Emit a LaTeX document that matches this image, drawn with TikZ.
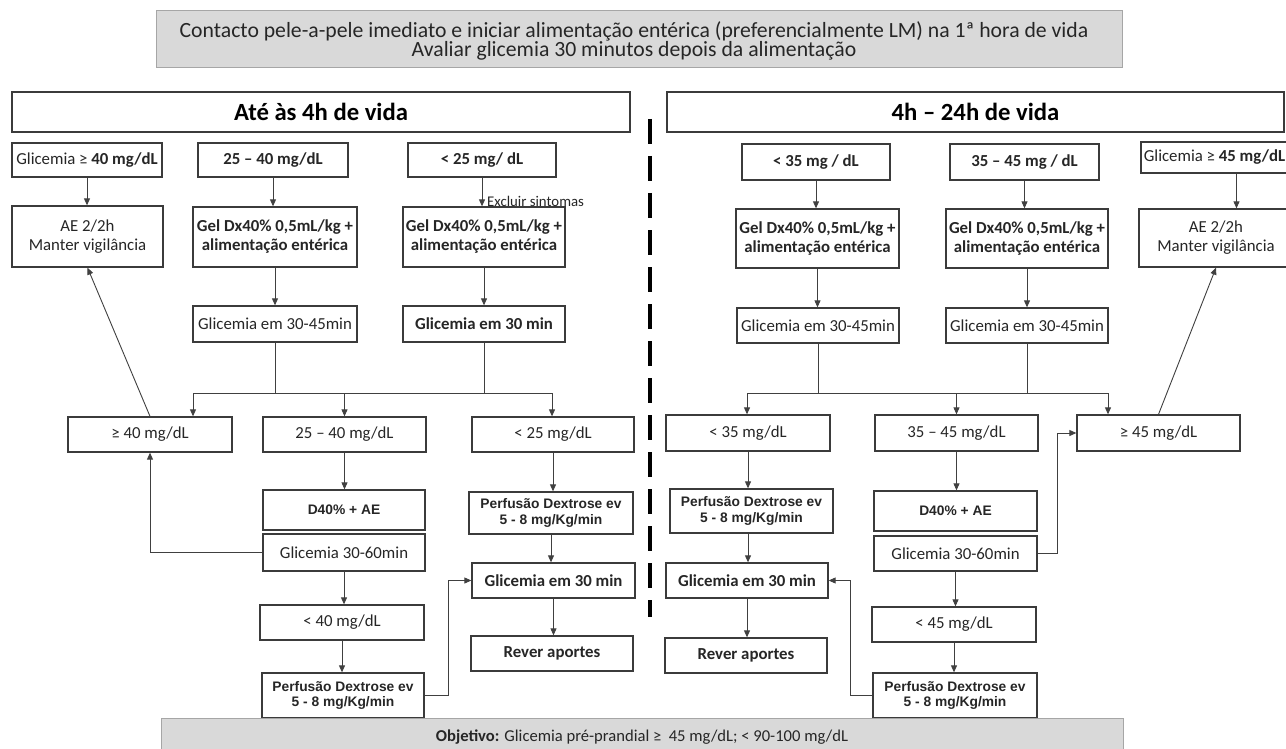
\documentclass[tikz,border=0pt]{standalone}
\usepackage{fontspec}
\setmainfont{Carlito}
\newfontfamily\arialf{Liberation Sans}
\usetikzlibrary{arrows.meta}
\definecolor{boxc}{HTML}{3B3B3B}
\definecolor{txt}{HTML}{262626}
\definecolor{lnc}{HTML}{404040}
\definecolor{bannerfill}{HTML}{D9D9D9}
\definecolor{bannerdraw}{HTML}{A6A6A6}
\newcommand\fsz[2]{\fontsize{#1}{#2}\selectfont}
\tikzset{
  bx/.style={draw=boxc, line width=1.3pt, fill=white, inner sep=1pt, align=center, text=txt, font=\fsz{16.8}{19}},
  bxb/.style={bx, font=\fsz{16.8}{19}\bfseries},
  bxa/.style={bx, font=\arialf\fsz{13.8}{15.5}\bfseries},
  hdr/.style={draw=boxc, line width=1.1pt, fill=white, inner sep=1pt, text=black, font=\fsz{24.7}{28}\bfseries},
  banner/.style={draw=bannerdraw, line width=1pt, fill=bannerfill, inner sep=1pt, align=center, text=txt},
  ln/.style={line width=0.9pt, draw=lnc},
  arr/.style={ln, -{Triangle[length=7pt,width=6pt]}},
}
\begin{document}
\begin{tikzpicture}[x=1pt,y=-1pt]
\useasboundingbox (0,0) rectangle (1286,749);
\clip (0,0) rectangle (1286,749);
\fill[white] (0,0) rectangle (1286,749);

% top banner
\node[banner, minimum width=966pt, minimum height=57pt] (TB) at (639,39.5) {};
\node[align=center, inner sep=0pt, text=txt, font=\fsz{21.7}{18.5}] (TBt) at (634,41)
  {Contacto pele-a-pele imediato e iniciar alimentação entérica (preferencialmente LM) na 1ª hora de vida\\Avaliar glicemia 30 minutos depois da alimentação};

% headers
\node[hdr, minimum width=618pt, minimum height=40pt] (H1) at (321,112) {Até às 4h de vida};
\node[hdr, minimum width=617pt, minimum height=40pt] (H2) at (975.5,112) {4h – 24h de vida};

% separator
\coordinate (sepA) at (650,119);
\coordinate (sepB) at (650,617);
\draw[line width=3.6pt, black, dash pattern=on 25pt off 12pt] (sepA) -- (sepB);

% ---------- left ----------
\node[bx, minimum width=150pt, minimum height=34pt] (R1a) at (87,160) {Glicemia ≥ \textbf{40 mg/dL}};
\node[bxb, minimum width=150pt, minimum height=34pt] (R1b) at (273,160) {25 – 40 mg/dL};
\node[bxb, minimum width=148pt, minimum height=34pt] (R1c) at (482,160) {< 25 mg/ dL};
\node[bx, minimum width=151pt, minimum height=61pt] (AE1) at (87.5,236.5) {AE 2/2h\\Manter vigilância};
\node[bxb, minimum width=164pt, minimum height=60pt] (G1b) at (275,237) {Gel Dx40\% 0,5mL/kg +\\alimentação entérica};
\node[bxb, minimum width=162pt, minimum height=60pt] (G1c) at (484,237) {Gel Dx40\% 0,5mL/kg +\\alimentação entérica};
\node[bx, minimum width=164pt, minimum height=36pt] (M1b) at (275,324) {Glicemia em 30-45min};
\node[bxb, minimum width=162pt, minimum height=36pt] (M1c) at (484,324) {Glicemia em 30 min};
\node[bx, minimum width=164pt, minimum height=35pt] (L1a) at (150,434.5) {≥ 40 mg/dL};
\node[bx, minimum width=163pt, minimum height=35pt] (L1b) at (344.5,434.5) {25 – 40 mg/dL};
\node[bx, minimum width=162pt, minimum height=35pt] (L1c) at (553,434.5) {< 25 mg/dL};
\node[bxa, minimum width=162pt, minimum height=40pt] (D1) at (344,510) {D40\% + AE};
\node[bx, minimum width=162pt, minimum height=37pt] (Q1) at (344,552.5) {Glicemia 30-60min};
\node[bx, minimum width=164pt, minimum height=35pt] (N1) at (342,622.5) {< 40 mg/dL};
\node[bxa, minimum width=162pt, minimum height=45pt] (P1b) at (343,695.5) {Perfusão Dextrose ev\\5 - 8 mg/Kg/min};
\node[bxa, minimum width=164pt, minimum height=42pt] (P1c) at (551,513) {Perfusão Dextrose ev\\5 - 8 mg/Kg/min};
\node[bxb, minimum width=163pt, minimum height=35pt] (S1) at (553.5,580.5) {Glicemia em 30 min};
\node[bxb, minimum width=162pt, minimum height=35pt] (V1) at (552,653.5) {Rever aportes};
\node[anchor=west, inner sep=0pt, text=txt, font=\fsz{14.8}{16}] (EX) at (487,201) {Excluir sintomas};

% ---------- right ----------
\node[bxb, minimum width=148pt, minimum height=36pt] (R2a) at (816,162) {< 35 mg / dL};
\node[bxb, minimum width=149pt, minimum height=36pt] (R2b) at (1024.5,162) {35 – 45 mg / dL};
\node[bx, minimum width=147pt, minimum height=31pt] (R2c) at (1214.5,157.5) {Glicemia ≥ \textbf{45 mg/dL}};
\node[bx, minimum width=154pt, minimum height=58pt] (AE2) at (1216,238) {AE 2/2h\\Manter vigilância};
\node[bxb, minimum width=163pt, minimum height=59pt] (G2a) at (817.5,238.5) {Gel Dx40\% 0,5mL/kg +\\alimentação entérica};
\node[bxb, minimum width=162pt, minimum height=59pt] (G2b) at (1027,238.5) {Gel Dx40\% 0,5mL/kg +\\alimentação entérica};
\node[bx, minimum width=162pt, minimum height=35pt] (M2a) at (818,325.5) {Glicemia em 30-45min};
\node[bx, minimum width=162pt, minimum height=35pt] (M2b) at (1027,325.5) {Glicemia em 30-45min};
\node[bx, minimum width=164pt, minimum height=36pt] (L2a) at (748,433) {< 35 mg/dL};
\node[bx, minimum width=163pt, minimum height=36pt] (L2b) at (956.5,433) {35 – 45 mg/dL};
\node[bx, minimum width=163pt, minimum height=36pt] (L2c) at (1158.5,433) {≥ 45 mg/dL};
\node[bxa, minimum width=163pt, minimum height=44pt] (P2a) at (751.5,511) {Perfusão Dextrose ev\\5 - 8 mg/Kg/min};
\node[bxb, minimum width=162pt, minimum height=35pt] (S2) at (747,580.5) {Glicemia em 30 min};
\node[bxb, minimum width=162pt, minimum height=35pt] (V2) at (746,655.5) {Rever aportes};
\node[bxa, minimum width=163pt, minimum height=40pt] (D2) at (955.5,511) {D40\% + AE};
\node[bx, minimum width=163pt, minimum height=35pt] (Q2) at (955.5,553.5) {Glicemia 30-60min};
\node[bx, minimum width=164pt, minimum height=35pt] (N2) at (954,624.5) {< 45 mg/dL};
\node[bxa, minimum width=164pt, minimum height=45pt] (P2b) at (955,695.5) {Perfusão Dextrose ev\\5 - 8 mg/Kg/min};

% ---------- connectors left ----------
\draw[arr] (R1a.south) -- (R1a.south |- AE1.north);
\draw[arr] (R1b.south) -- (R1b.south |- G1b.north);
\draw[arr] (R1c.south) -- (R1c.south |- G1c.north);
\draw[arr] (G1b.south) -- (M1b.north);
\draw[arr] (G1c.south) -- (M1c.north);
\coordinate (j1) at (193,393);
\coordinate (j2) at (552,393);
\draw[ln] (M1b.south) -- (M1b.south |- j1);
\draw[ln] (M1c.south) -- (M1c.south |- j1);
\draw[ln] (j1) -- (j2);
\draw[arr] (j1) -- (j1 |- L1a.north);
\draw[arr] (L1b.north |- j1) -- (L1b.north);
\draw[arr] (j2) -- (j2 |- L1c.north);
\draw[arr] (L1a.north) -- (AE1.south);
\draw[arr] (L1b.south) -- (L1b.south |- D1.north);
\draw[arr] (Q1.west) -| (L1a.south);
\draw[arr] (Q1.south) -- (Q1.south |- N1.north);
\draw[arr] (N1.south) -- (N1.south |- P1b.north);
\draw[arr] (L1c.south) -- (L1c.south |- P1c.north);
\draw[arr] (P1c.south) -- (P1c.south |- S1.north);
\draw[arr] (S1.south) -- (S1.south |- V1.north);
\draw[arr] (P1b.east) -- ++(24,0) |- (S1.west);

% ---------- connectors right ----------
\draw[arr] (R2a.south) -- (R2a.south |- G2a.north);
\draw[arr] (R2b.south) -- (R2b.south |- G2b.north);
\coordinate (r2out) at ([xshift=22pt]R2c.south);
\draw[arr] (r2out) -- (r2out |- AE2.north);
\draw[arr] (G2a.south) -- (G2a.south |- M2a.north);
\draw[arr] (G2b.south) -- (G2b.south |- M2b.north);
\coordinate (j3) at (747,393);
\coordinate (j4) at (1108,393);
\draw[ln] (M2a.south) -- (M2a.south |- j3);
\draw[ln] (M2b.south) -- (M2b.south |- j3);
\draw[ln] (j3) -- (j4);
\draw[arr] (j3) -- (j3 |- L2a.north);
\draw[arr] (L2b.north |- j3) -- (L2b.north);
\draw[arr] (j4) -- (j4 |- L2c.north);
\draw[arr] (L2c.north) -- (AE2.south);
\draw[arr] (L2a.south) -- (L2a.south |- P2a.north);
\draw[arr] (L2a.south |- P2a.south) -- (L2a.south |- S2.north);
\draw[arr] (S2.south) -- (S2.south |- V2.north);
\draw[arr] (L2b.south) -- (L2b.south |- D2.north);
\draw[arr] (Q2.east) -- ++(20,0) |- (L2c.west);
\draw[arr] (Q2.south) -- (Q2.south |- N2.north);
\draw[arr] (N2.south) -- (N2.south |- P2b.north);
\draw[arr] (P2b.west) -- ++(-22,0) |- (S2.east);

% bottom banner
\node[banner, minimum width=962pt, minimum height=38pt, font=\fsz{16.6}{19}] (BB) at (642,737)
  {\textbf{Objetivo:} Glicemia pré-prandial ≥\ \ 45 mg/dL; < 90-100 mg/dL};
\end{tikzpicture}
\end{document}
